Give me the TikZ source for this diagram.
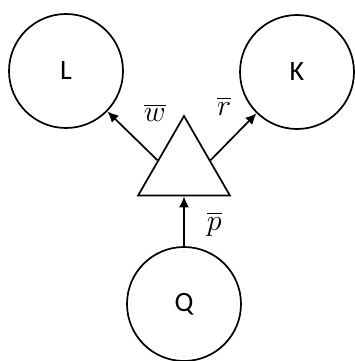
\RequirePackage{fix-cm}
\documentclass[tikz,border=0pt]{standalone}
\usepackage{amsmath}
\usepackage{fontspec}
\setsansfont{Carlito}
\usetikzlibrary{arrows.meta,shapes.geometric,positioning,calc}

\begin{document}
\begin{tikzpicture}[x=1pt,y=-1pt,
  sector/.style={draw,circle,line width=1.7pt,minimum size=114pt,inner sep=0pt,
    font=\sffamily\fontsize{28}{32}\selectfont},
  firm/.style={draw,regular polygon,regular polygon sides=3,line width=1.7pt,
    minimum size=106pt,inner sep=0pt},
  flow/.style={-{Latex[length=11pt,width=10pt]},line width=1.7pt},
  price/.style={inner sep=0pt,font=\fontsize{30}{34}\selectfont}]
\useasboundingbox (0,0) rectangle (354,361);
\node[sector] (L) at (66,71) {L};
\node[sector] (K) at (297,72) {K};
\node[sector] (Q) at (184,304) {Q};
\node[firm] (tri) at (184,169) {};
\draw[flow] ($(tri.corner 1)!0.56!(tri.corner 2)$) -- (L)
  node[price,pos=0.55,above right=11pt and 13pt] (w) {$\overline{w}$};
\draw[flow] ($(tri.corner 1)!0.56!(tri.corner 3)$) -- (K)
  node[price,pos=0.6,above left=16pt and 6pt] (r) {$\overline{r}$};
\draw[flow] (Q) -- (tri.side 2)
  node[price,midway,right=22pt,yshift=-3pt] (p) {$\overline{p}$};
\end{tikzpicture}
\end{document}
